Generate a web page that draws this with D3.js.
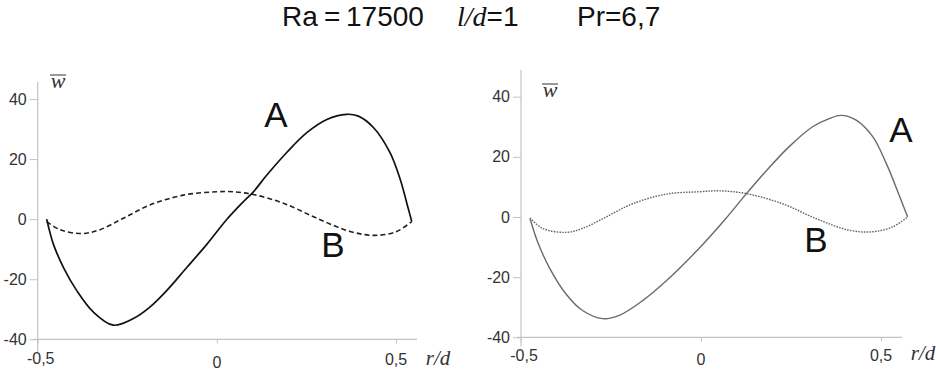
<!DOCTYPE html>
<html>
<head>
<meta charset="utf-8">
<script src="https://cdn.jsdelivr.net/npm/d3@7"></script>
<style>
  body { margin: 0; background: #fff; }
  svg { display: block; }
</style>
</head>
<body>
<div id="chart"></div>
<script>
// Data (r/d vs mean velocity w)
const xTicks = [-0.5, 0, 0.5];
const yTicks = [-40, -20, 0, 20, 40];

const leftA_r = [-0.475, -0.456, -0.428, -0.391, -0.345, -0.289, -0.233, -0.187, -0.140, -0.084, -0.028, 0.027, 0.074, 0.102, 0.139, 0.195, 0.251, 0.307, 0.362, 0.395, 0.437, 0.483, 0.511, 0.534, 0.544];
const leftA_w = [0, -8.4, -16.1, -23.8, -30.9, -35.3, -33.1, -29.3, -23.8, -16.1, -8.4, -0.2, 5.8, 9.1, 14.6, 22.2, 28.8, 33.2, 34.9, 34.3, 30.5, 22.2, 13.5, 3.6, -0.8];
const leftB_r = [-0.475, -0.438, -0.377, -0.326, -0.261, -0.187, -0.093, 0, 0.046, 0.102, 0.186, 0.279, 0.372, 0.441, 0.502, 0.544];
const leftB_w = [-0.8, -3.5, -4.8, -3.5, 0.3, 4.7, 8.0, 9.1, 9.1, 8.2, 5.3, 0.3, -4.1, -5.4, -4.1, -0.8];

const rightA_r = [-0.475, -0.454, -0.421, -0.375, -0.329, -0.273, -0.227, -0.162, -0.097, -0.005, 0.069, 0.125, 0.181, 0.245, 0.310, 0.356, 0.389, 0.431, 0.477, 0.514, 0.551, 0.574];
const rightA_w = [-0.5, -8.2, -16.9, -25.6, -31.1, -33.8, -32.7, -27.8, -21.3, -10.4, -0.5, 7.6, 15.3, 23.4, 30.0, 32.7, 33.8, 32.2, 26.7, 18.0, 7.1, 0];
const rightB_r = [-0.475, -0.440, -0.375, -0.329, -0.264, -0.190, -0.097, -0.005, 0.051, 0.125, 0.227, 0.319, 0.412, 0.477, 0.532, 0.574];
const rightB_w = [-0.3, -3.8, -5.1, -3.8, 0, 4.4, 7.6, 8.4, 8.7, 7.8, 4.4, -0.5, -4.4, -4.9, -3.3, 0];

const width = 936, height = 371;
const sans = "Liberation Sans, Arial, sans-serif";
const serif = "Liberation Serif, Times New Roman, serif";

const svg = d3.select("#chart").append("svg")
  .attr("width", width)
  .attr("height", height)
  .style("background", "#fff");

// Title
const title = svg.append("text")
  .attr("y", 26)
  .style("font-family", sans)
  .style("font-size", "28px")
  .attr("fill", "#111");
title.append("tspan").attr("x", 282).text("Ra");
title.append("tspan").attr("x", 324).text("=");
title.append("tspan").attr("x", 346).text("17500");
title.append("tspan").attr("x", 457)
  .style("font-family", serif)
  .style("font-style", "italic").text("l/d");
title.append("tspan").text("=1");
title.append("tspan").attr("x", 577).text("Pr=6,7");

const panels = [
  {
    x0: 37.7, x1: 396, y0: 339.3, y1: 99, axisTop: 82, axisBottom: 352, xLineL: 33, xLineR: 417,
    A: [leftA_r, leftA_w], B: [leftB_r, leftB_w],
    colorA: "#111", widthA: 1.7, colorB: "#222", widthB: 1.6, dashB: "5,3",
    labelA: [276, 127], labelB: [333, 257], wLabel: [58, 88], rdLabel: [438, 365],
    tickBase: [364, 368, 365]
  },
  {
    x0: 521, x1: 881, y0: 337.3, y1: 96.7, axisTop: 70, axisBottom: 346, xLineL: 517, xLineR: 902,
    A: [rightA_r, rightA_w], B: [rightB_r, rightB_w],
    colorA: "#6a6a6a", widthA: 1.4, colorB: "#666", widthB: 1.4, dashB: "1.6,1.2",
    labelA: [901, 142], labelB: [816, 252], wLabel: [550, 97], rdLabel: [923, 360],
    tickBase: [361, 365, 361]
  }
];

panels.forEach(p => {
  const x = d3.scaleLinear().domain([-0.5, 0.5]).range([p.x0, p.x1]);
  const y = d3.scaleLinear().domain([-40, 40]).range([p.y0, p.y1]);
  const g = svg.append("g");

  // axis lines
  g.append("line")
    .attr("x1", x(-0.5)).attr("x2", x(-0.5))
    .attr("y1", p.axisTop).attr("y2", p.axisBottom)
    .attr("stroke", "#c4c4c4").attr("stroke-width", 1.2);
  g.append("line")
    .attr("x1", p.xLineL).attr("x2", p.xLineR)
    .attr("y1", y(-40)).attr("y2", y(-40))
    .attr("stroke", "#c4c4c4").attr("stroke-width", 1.2);

  // y axis ticks
  const yAxis = g.append("g")
    .attr("transform", `translate(${x(-0.5)},0)`)
    .call(d3.axisLeft(y).tickValues(yTicks).tickSize(8).tickPadding(3).tickFormat(d => String(d)));
  yAxis.select(".domain").remove();
  yAxis.selectAll(".tick line").attr("stroke", "#c4c4c4");
  yAxis.selectAll(".tick text")
    .style("font-family", sans)
    .style("font-size", "16px").attr("fill", "#333");

  // x axis ticks
  const xAxis = g.append("g")
    .attr("transform", `translate(0,${y(-40)})`)
    .call(d3.axisBottom(x).tickValues(xTicks).tickSize(4).tickFormat(() => ""));
  xAxis.select(".domain").remove();
  xAxis.selectAll(".tick line").attr("stroke", "#c4c4c4");

  g.selectAll(".xlab")
    .data(xTicks)
    .join("text")
    .attr("class", "xlab")
    .attr("x", d => x(d) + (d === -0.5 ? 3 : 0))
    .attr("y", (d, i) => p.tickBase[i])
    .attr("text-anchor", "middle")
    .style("font-family", sans)
    .style("font-size", "16px").attr("fill", "#333")
    .text(d => d === 0 ? "0" : String(d).replace(".", ","));

  // axis titles
  g.append("text")
    .attr("x", p.rdLabel[0]).attr("y", p.rdLabel[1])
    .attr("text-anchor", "middle")
    .style("font-family", serif)
    .style("font-style", "italic").style("font-size", "21px").attr("fill", "#333")
    .text("r/d");
  g.append("text")
    .attr("x", p.wLabel[0]).attr("y", p.wLabel[1])
    .attr("text-anchor", "middle")
    .style("font-family", serif)
    .style("font-style", "italic").style("font-size", "22px").attr("fill", "#333")
    .text("w");
  g.append("line")
    .attr("x1", p.wLabel[0] - 8).attr("x2", p.wLabel[0] + 8)
    .attr("y1", p.wLabel[1] - 13).attr("y2", p.wLabel[1] - 13)
    .attr("stroke", "#333").attr("stroke-width", 1);

  const line = d3.line()
    .x(d => x(d[0]))
    .y(d => y(d[1]))
    .curve(d3.curveCatmullRom.alpha(0.5));

  const ptsA = p.A[0].map((r, i) => [r, p.A[1][i]]);
  const ptsB = p.B[0].map((r, i) => [r, p.B[1][i]]);

  g.append("path")
    .attr("d", line(ptsB))
    .attr("fill", "none")
    .attr("stroke", p.colorB)
    .attr("stroke-width", p.widthB)
    .attr("stroke-dasharray", p.dashB);

  g.append("path")
    .attr("d", line(ptsA))
    .attr("fill", "none")
    .attr("stroke", p.colorA)
    .attr("stroke-width", p.widthA);

  // curve labels
  [["A", p.labelA], ["B", p.labelB]].forEach(([t, pos]) => {
    g.append("text")
      .attr("x", pos[0]).attr("y", pos[1])
      .attr("text-anchor", "middle")
      .style("font-family", sans)
      .style("font-size", "35px").attr("fill", "#111")
      .text(t);
  });
});
</script>
</body>
</html>
